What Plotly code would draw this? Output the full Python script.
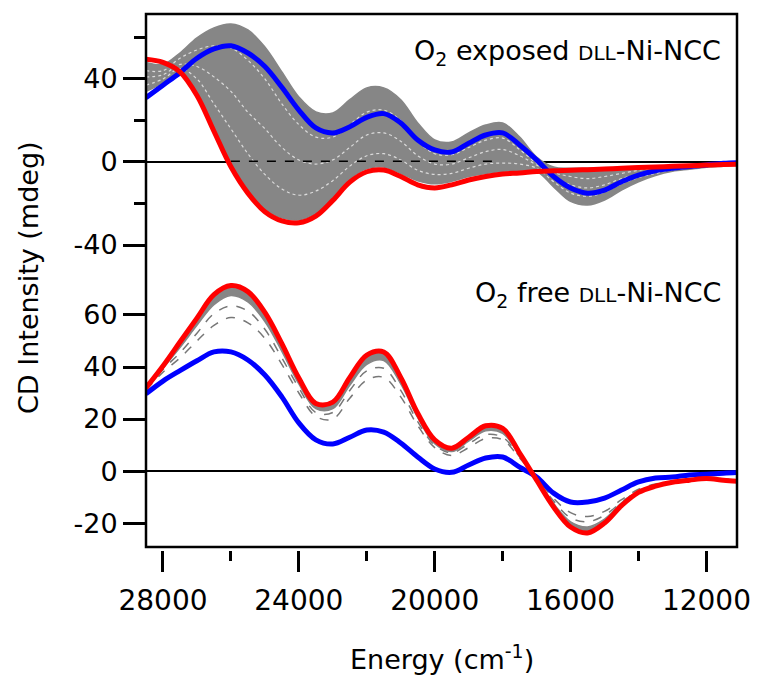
import plotly.graph_objects as go

# ---------------- data ----------------
energy = [28500, 28000, 27500, 27000, 26500, 26000, 25500, 25000, 24500, 24000,
          23500, 23000, 22500, 22000, 21500, 21000, 20500, 20000, 19500, 19000,
          18500, 18000, 17500, 17000, 16500, 16000, 15500, 15000, 14500, 14000,
          13500, 13000, 12500, 12000, 11500, 11000]

# O2 exposed (top panel)
exp_blue = [31, 37, 43, 50, 54.5, 56, 52.5, 46, 36, 25, 16.4, 14, 17, 21.5, 23.3, 18.8,
            10.6, 5.8, 4.8, 9, 13, 14, 8.2, 1, -7, -12.5, -15, -13.5, -9.5, -6.3,
            -4.2, -3, -2.2, -1.4, -0.6, -0.3]
exp_red = [49.5, 48, 43.4, 32, 14.8, -2.3, -15, -24, -28.4, -29.3, -26.1, -18.5, -9.7, -4.7,
           -3.9, -7, -11, -12.5, -11, -8.7, -7, -5.8, -5.3, -4.6, -4.2, -4, -3.7, -3.4,
           -3, -2.7, -2.4, -2.1, -1.8, -1.5, -1.2, -1]
exp_gray_upper = [48, 47, 52.5, 59.8, 64.6, 66.5, 63.6, 55.4, 43.4, 31.3, 24.1, 23.6, 30,
                  35.7, 35.7, 30, 18.8, 10.6, 9.6, 14, 17.8, 18.8, 12, 2.4, -2.4, -3, -3,
                  -2.8, -2.5, -2.2, -2, -1.8, -1.5, -1.2, -0.8, -0.5]
exp_gray_lower = [34, 38, 43, 33.5, 16.3, -0.8, -13.5, -22.5, -26.9, -27.8, -24.6, -17,
                  -8.2, -3.2, -2.4, -5.5, -9, -10.5, -9.3, -7, -5.5, -4.5, -4, -4.5, -12,
                  -19, -20.7, -18.3, -13.5, -9.5, -6.5, -4.5, -3.5, -2.5, -2, -1.5]
exp_gray_a = [44, 44, 50, 54, 56, 55, 49, 40, 28, 18, 12, 12, 18, 24, 25, 20, 10, 4, 3.5,
              7, 10.5, 11.5, 6, -0.5, -5, -7, -8, -7, -5.5, -4, -3, -2.5, -2, -1.5, -1, -0.8]
exp_gray_b = [41, 42, 47, 46, 41, 34, 24, 16, 7, 1, -1, 1, 7, 13, 14, 10, 3, -1, -1, 2, 5,
              6, 3, -1.5, -7, -11, -12.5, -11, -8, -6, -4.5, -3.2, -2.5, -2, -1.5, -1]
exp_gray_c = [37, 40, 45, 40, 28, 16, 4, -6, -13, -16, -14, -9, -2, 3, 4, 1, -4, -6, -5.5,
              -3, -1, -0.5, -1, -3, -9.5, -15, -16.5, -14.5, -10.5, -7.5, -5.5, -3.8, -3,
              -2.2, -1.7, -1.2]
baseline_x = [26000, 18100]
baseline_y = [0.3, 0.3]

# O2 free (bottom panel)
free_blue = [29.7, 34.6, 38.6, 42.4, 45.8, 45.8, 42.7, 36.9, 28.5, 18.5, 12, 10.4, 13,
             15.8, 15, 10.8, 5.4, 0.8, -0.5, 2.3, 5, 5.4, 1.5, -2.3, -8.5, -11.9, -11.9,
             -10.4, -7.3, -4.2, -2.7, -2.3, -1.5, -1.2, -0.8, -0.5]
free_red = [32, 40.4, 49.6, 58.8, 67.8, 71.3, 69, 61, 49, 35.8, 26, 26.5, 36, 44.6, 45.8,
            36, 22.2, 12, 8.8, 13, 17.4, 16.4, 6.9, -3.5, -13.8, -21.5, -23.8, -20, -13.3,
            -8.2, -5.8, -4.3, -3.5, -2.9, -3.5, -4]
free_gray_cluster = [31.5, 39.5, 47.5, 56, 64, 67.5, 65, 57.5, 46, 33.5, 24, 24, 33, 41,
                     42.5, 33.5, 20.5, 10.5, 7.5, 11.5, 15.5, 14.5, 6, -3, -12.5, -19.5,
                     -21.5, -18.5, -12.2, -7.8, -5.5, -4.2, -3.4, -2.8, -3.2, -3.6]
free_gray_d1 = [31, 38, 43.5, 50, 56, 59, 57, 51, 41, 30, 21, 20, 28, 35, 36, 28.5, 17.5,
                9, 6, 9, 12.5, 12, 5, -2.5, -10.5, -16, -17.5, -15.5, -11, -7, -5, -4,
                -3.2, -2.5, -3, -3.5]
free_gray_d2 = [31.5, 39, 45.5, 53, 60.5, 63.5, 61.5, 54.5, 43.5, 32, 22.5, 22.5, 31, 38.5,
                39.5, 31, 19, 10, 7, 10.5, 14, 13, 5.5, -3, -11.5, -18, -19.5, -17, -12,
                -7.5, -5.5, -4.2, -3.3, -2.6, -3.1, -3.6]

x_ticks = [28000, 24000, 20000, 16000, 12000]
x_ticktext = ["28000", "24000", "20000", "16000", "12000"]
top_ticks = [-40, 0, 40]
top_ticktext = ["-40", "0", "40"]
bot_ticks = [-20, 0, 20, 40, 60]
bot_ticktext = ["-20", "0", "20", "40", "60"]

# ---------------- figure ----------------
FONT = "DejaVu Sans"
GRAY = "#868686"
RED = "#ff0000"
BLUE = "#0000ff"

fig = go.Figure()

# top panel (x / y2)
fig.add_trace(go.Scatter(x=energy, y=exp_gray_upper, xaxis="x", yaxis="y2", mode="lines",
                         line=dict(color=GRAY, width=1.5, shape="spline"), hoverinfo="skip"))
fig.add_trace(go.Scatter(x=energy, y=exp_gray_lower, xaxis="x", yaxis="y2", mode="lines",
                         fill="tonexty", fillcolor=GRAY,
                         line=dict(color=GRAY, width=1.5, shape="spline"), hoverinfo="skip"))
for arr in (exp_gray_a, exp_gray_b, exp_gray_c):
    fig.add_trace(go.Scatter(x=energy, y=arr, xaxis="x", yaxis="y2", mode="lines",
                             line=dict(color="rgba(255,255,255,0.7)", width=1.2,
                                       dash="dot", shape="spline"), hoverinfo="skip"))
fig.add_trace(go.Scatter(x=baseline_x, y=baseline_y, xaxis="x", yaxis="y2", mode="lines",
                         line=dict(color="black", width=1.5, dash="dash"), hoverinfo="skip"))
fig.add_trace(go.Scatter(x=energy, y=exp_blue, xaxis="x", yaxis="y2", mode="lines",
                         line=dict(color=BLUE, width=5, shape="spline")))
fig.add_trace(go.Scatter(x=energy, y=exp_red, xaxis="x", yaxis="y2", mode="lines",
                         line=dict(color=RED, width=5, shape="spline")))

# bottom panel (x / y)
for arr in (free_gray_d1, free_gray_d2):
    fig.add_trace(go.Scatter(x=energy, y=arr, xaxis="x", yaxis="y", mode="lines",
                             line=dict(color="#777777", width=1.5, dash="dash",
                                       shape="spline"), hoverinfo="skip"))
fig.add_trace(go.Scatter(x=energy, y=free_gray_cluster, xaxis="x", yaxis="y", mode="lines",
                         line=dict(color=GRAY, width=1.5, shape="spline"), hoverinfo="skip"))
fig.add_trace(go.Scatter(x=energy, y=free_red, xaxis="x", yaxis="y", mode="lines",
                         fill="tonexty", fillcolor=GRAY,
                         line=dict(color=GRAY, width=0, shape="spline"), hoverinfo="skip"))
fig.add_trace(go.Scatter(x=energy, y=free_blue, xaxis="x", yaxis="y", mode="lines",
                         line=dict(color=BLUE, width=5, shape="spline")))
fig.add_trace(go.Scatter(x=energy, y=free_red, xaxis="x", yaxis="y", mode="lines",
                         line=dict(color=RED, width=5, shape="spline")))

W, H = 759, 679
ML, MR, MT, MB = 146, 22, 14, 129
PH = H - MT - MB
PW = W - ML - MR
split = (H - MB - 283) / PH
bottom0 = 3 / PH

fig.update_layout(
    width=W, height=H,
    margin=dict(l=ML, r=MR, t=MT, b=MB, autoexpand=False),
    paper_bgcolor="white", plot_bgcolor="white",
    showlegend=False,
    font=dict(family=FONT, color="black", size=27),
    xaxis=dict(domain=[0, 1], range=[28500, 11100], anchor="free", position=0,
               automargin=False,
               showline=False, showgrid=False, zeroline=False,
               tickvals=x_ticks, ticktext=x_ticktext,
               ticks="outside", ticklen=21, tickwidth=2.5, tickcolor="black",
               tickfont=dict(family=FONT, size=28, color="black"), ticklabelstandoff=4,
               minor=dict(ticks="outside", ticklen=10, tickwidth=2.5, tickcolor="black",
                          dtick=2000, tick0=0, showgrid=False)),
    yaxis=dict(domain=[bottom0, split], range=[-29.2, 72.3], anchor="x",
               automargin=False,
               showline=False, showgrid=False,
               zeroline=True, zerolinecolor="black", zerolinewidth=2,
               tickvals=bot_ticks, ticktext=bot_ticktext,
               ticks="outside", ticklen=22, tickwidth=2.5, tickcolor="black",
               tickfont=dict(family=FONT, size=27, color="black")),
    yaxis2=dict(domain=[split, 1], range=[-58.3, 71.3], anchor="x",
                automargin=False,
                showline=False, showgrid=False,
                zeroline=True, zerolinecolor="black", zerolinewidth=2,
                tickvals=top_ticks, ticktext=top_ticktext,
                ticks="outside", ticklen=22, tickwidth=2.5, tickcolor="black",
                tickfont=dict(family=FONT, size=27, color="black"),
                minor=dict(ticks="outside", ticklen=11, tickwidth=2.5, tickcolor="black",
                           dtick=20, tick0=0, showgrid=False)),
    shapes=[dict(type="rect", xref="paper", yref="paper", x0=0, x1=1, y0=bottom0, y1=1,
                 line=dict(color="black", width=2.5), layer="above")],
    annotations=[
        dict(text="O<sub>2</sub> exposed <span style='font-size:20px'>DLL</span>-Ni-NCC",
             xref="paper", yref="paper", x=(723 - ML) / PW,
             y=(H - MB - 53) / PH, xanchor="right", yanchor="middle", showarrow=False,
             font=dict(family=FONT, size=27, color="black")),
        dict(text="O<sub>2</sub> free <span style='font-size:20px'>DLL</span>-Ni-NCC",
             xref="paper", yref="paper", x=(723 - ML) / PW,
             y=(H - MB - 294) / PH, xanchor="right", yanchor="middle", showarrow=False,
             font=dict(family=FONT, size=27, color="black")),
        dict(text="CD Intensity (mdeg)", textangle=-90,
             xref="paper", yref="paper", x=(28 - ML) / PW,
             y=(H - MB - 278) / PH, xanchor="center", yanchor="middle", showarrow=False,
             font=dict(family=FONT, size=27, color="black")),
        dict(text="Energy (cm<sup>-1</sup>)",
             xref="paper", yref="paper", x=(442 - ML) / PW,
             y=(H - MB - 657) / PH, xanchor="center", yanchor="middle", showarrow=False,
             font=dict(family=FONT, size=27, color="black")),
    ],
)

fig.write_html("out.html", config={"displayModeBar": False},
               post_script="document.body.style.margin='0';document.body.style.padding='0';")
